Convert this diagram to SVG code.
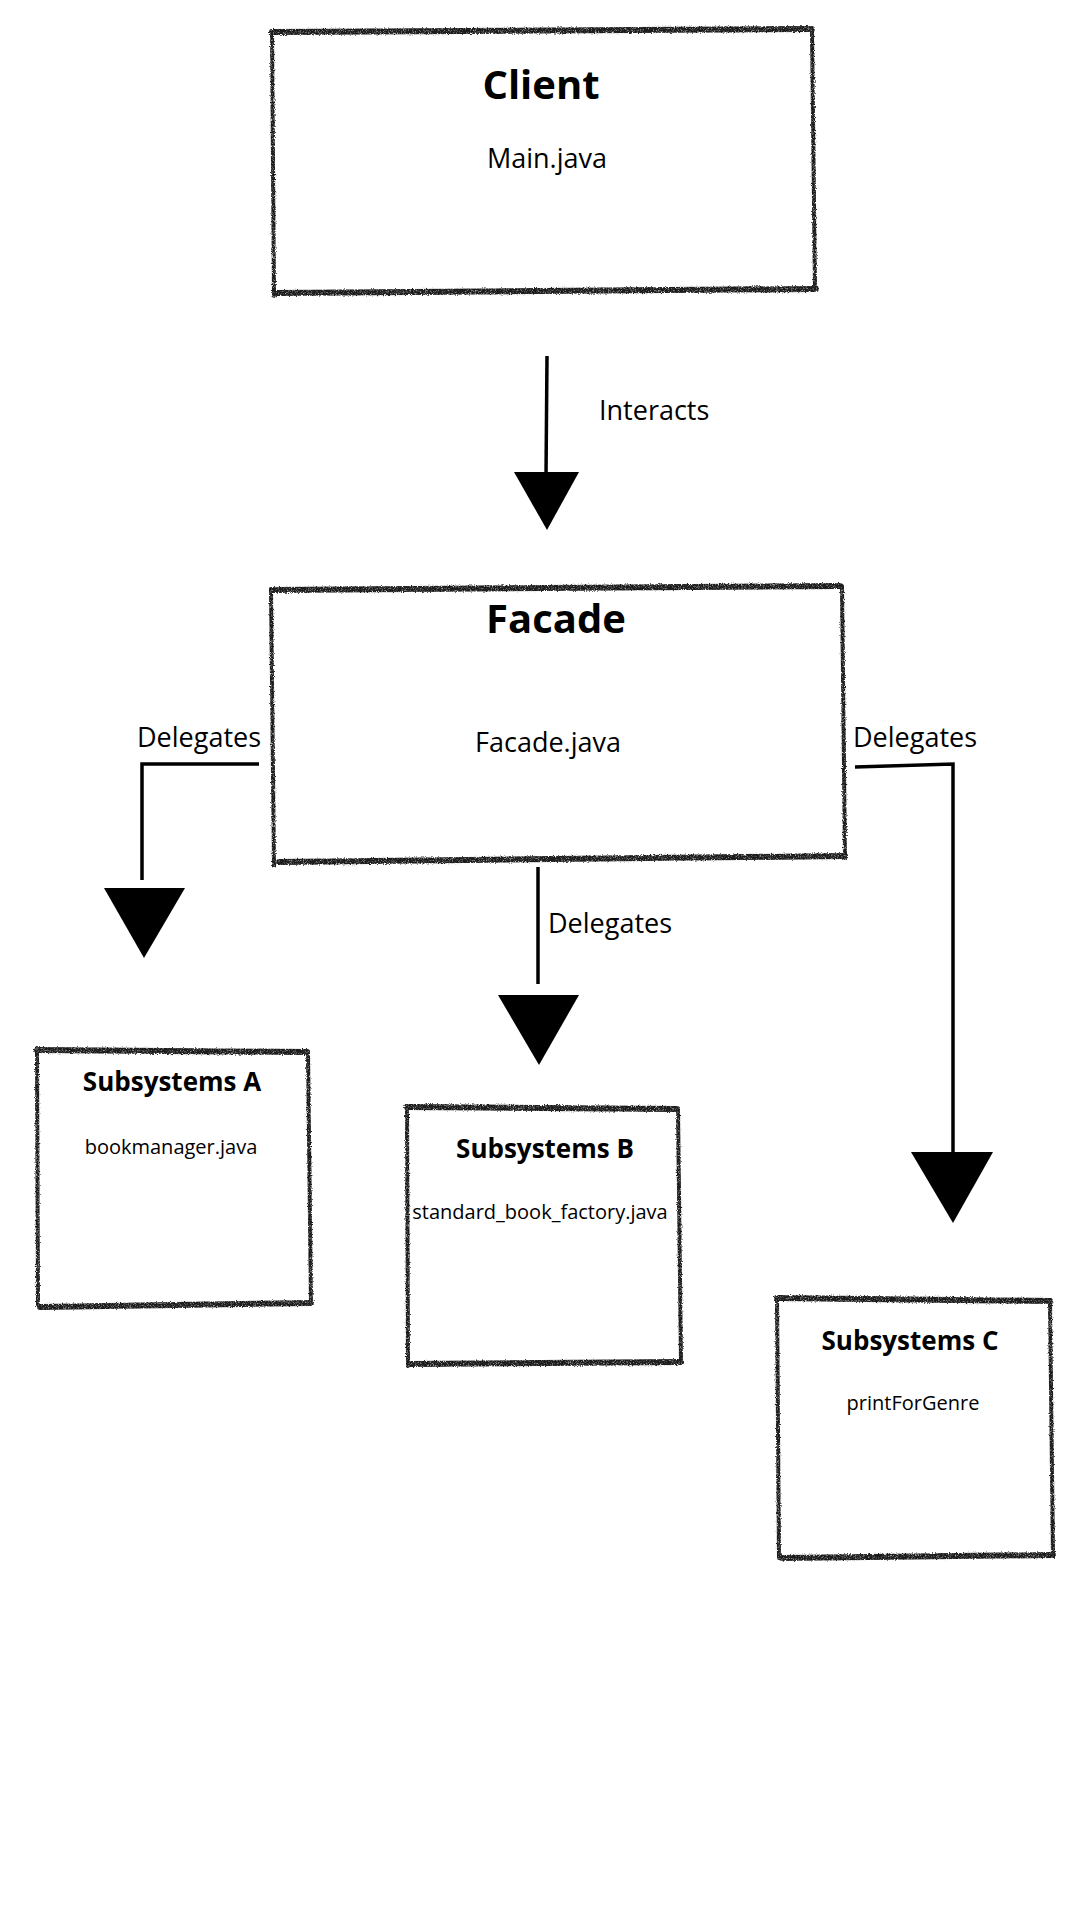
<svg xmlns="http://www.w3.org/2000/svg" width="1080" height="1920" viewBox="0 0 1080 1920">
<defs>
<filter id="rough" x="-5%" y="-5%" width="110%" height="110%">
<feTurbulence type="fractalNoise" baseFrequency="0.9" numOctaves="2" seed="3" result="n"/>
<feDisplacementMap in="SourceGraphic" in2="n" scale="3" xChannelSelector="R" yChannelSelector="G" result="d"/>
<feTurbulence type="fractalNoise" baseFrequency="1.4" numOctaves="1" seed="7" result="g"/>
<feColorMatrix in="g" type="matrix" values="0 0 0 0 0  0 0 0 0 0  0 0 0 0 0  0 0 0 -2 2" result="ga"/>
<feComposite in="d" in2="ga" operator="in"/>
</filter>
<style>
.edge{fill:none;stroke:#1c1c1c;stroke-linecap:round;}
.h{stroke-width:6;}
.v{stroke-width:4;}
.box{filter:url(#rough);}
.title{font-family:"Open Sans","Noto Sans",sans-serif;font-weight:700;fill:#000;text-anchor:middle;}
.big{font-size:40px;}
.small{font-size:26px;}
.sub{font-family:"Open Sans","Noto Sans",sans-serif;fill:#000;text-anchor:middle;}
.lbl{font-family:"Open Sans","Noto Sans",sans-serif;font-size:27px;fill:#000;}
.line{fill:none;stroke:#000;stroke-width:3.5;}
.head{fill:#000;}
</style>
</defs>
<rect width="1080" height="1920" fill="#fff"/>

<g id="client">
<g class="box">
<path class="edge h" d="M272,32 L812,29"/>
<path class="edge v" d="M812,29 L815,290"/>
<path class="edge h" d="M816,289 L277,293"/>
<path class="edge v" d="M272,31 L274,296"/>
</g>
<text class="title big" x="541" y="99">Client</text>
<text class="sub" x="547" y="168" font-size="27">Main.java</text>
</g>

<g id="facade">
<g class="box">
<path class="edge h" d="M272,590 L840,586"/>
<path class="edge v" d="M842,586 L845,858"/>
<path class="edge h" d="M845,856 L279,862"/>
<path class="edge v" d="M271,589 L274,866"/>
</g>
<text class="title big" x="556" y="633">Facade</text>
<text class="sub" x="548" y="752" font-size="27">Facade.java</text>
</g>

<g id="subA">
<g class="box">
<path class="edge h" d="M37,1050 L307,1052"/>
<path class="edge v" d="M308,1052 L311,1304"/>
<path class="edge h" d="M311,1303 L40,1307"/>
<path class="edge v" d="M37,1048 L38,1305"/>
</g>
<text class="title small" x="172" y="1091">Subsystems A</text>
<text class="sub" x="171" y="1154" font-size="20">bookmanager.java</text>
</g>

<g id="subB">
<g class="box">
<path class="edge h" d="M407,1107 L677,1109"/>
<path class="edge v" d="M678,1109 L681,1362"/>
<path class="edge h" d="M681,1362 L410,1364"/>
<path class="edge v" d="M407,1107 L408,1366"/>
</g>
<text class="title small" x="545" y="1158">Subsystems B</text>
<text class="sub" x="540" y="1219" font-size="20">standard_book_factory.java</text>
</g>

<g id="subC">
<g class="box">
<path class="edge h" d="M777,1298 L1050,1301"/>
<path class="edge v" d="M1050,1300 L1053,1556"/>
<path class="edge h" d="M1053,1555 L782,1558"/>
<path class="edge v" d="M777,1297 L779,1558"/>
</g>
<text class="title small" x="910" y="1350">Subsystems C</text>
<text class="sub" x="913" y="1410" font-size="20">printForGenre</text>
</g>

<g id="connectors">
<path class="line" d="M547,356 L546,476"/>
<polygon class="head" points="514,472 579,472 547,530"/>
<text class="lbl" x="599" y="420">Interacts</text>

<path class="line" d="M259,764 L142,764 L142,880"/>
<polygon class="head" points="104,888 185,888 144,958"/>
<text class="lbl" x="137" y="747">Delegates</text>

<path class="line" d="M538,867 L538,984"/>
<polygon class="head" points="498,995 579,995 539,1065"/>
<text class="lbl" x="548" y="933">Delegates</text>

<path class="line" d="M855,767 L953,764 L953,1154"/>
<polygon class="head" points="911,1152 993,1152 953,1223"/>
<text class="lbl" x="853" y="747">Delegates</text>
</g>
</svg>
